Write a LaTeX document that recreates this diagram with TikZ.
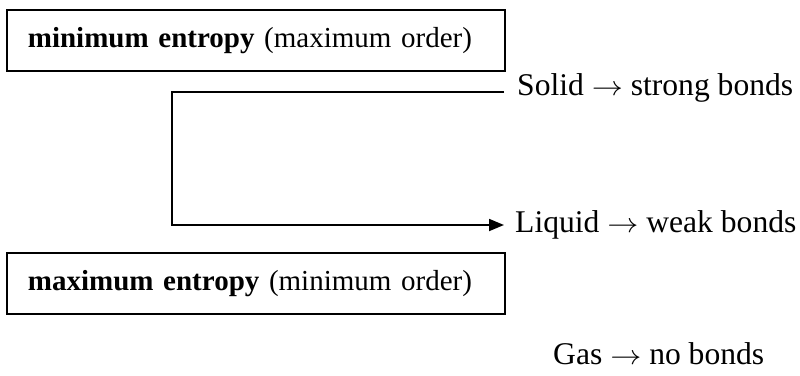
\documentclass[tikz,border=0pt]{standalone}
\usepackage{fontspec}
\setmainfont{Liberation Serif}
\usetikzlibrary{arrows.meta}
\newcommand{\harrow}{\scalebox{1.25}[1.1]{$\rightarrow$}}
\begin{document}
\begin{tikzpicture}[x=1pt,y=-1pt,
  box/.style={draw, line width=1.8pt, anchor=north west, minimum width=498pt, minimum height=61pt,
    text width=456pt, inner xsep=21pt, inner ysep=0pt, align=left,
    font=\fontsize{29}{34}\selectfont},
  lbl/.style={anchor=base west, inner sep=0pt, font=\fontsize{31.6}{37}\selectfont},
  conn/.style={line width=1.8pt}]
\useasboundingbox (0,0) rectangle (800,375);
\node[box] (box1) at (6,9) {\textbf{minimum entropy} (maximum order)};
\node[box] (box2) at (6,252) {\textbf{maximum entropy} (minimum order)};
\node[lbl] (solid) at (517,95) {Solid \harrow{} strong bonds};
\node[lbl] (liquid) at (515,232) {Liquid \harrow{} weak bonds};
\node[lbl] (gas) at (553,364) {Gas \harrow{} no bonds};
\coordinate (s) at (504,92);
\coordinate (l) at (504,225);
\draw[conn, -{Triangle[length=15pt,width=12pt]}] (s) -- (172,92) -- (172,225) -- (l);
\end{tikzpicture}
\end{document}
